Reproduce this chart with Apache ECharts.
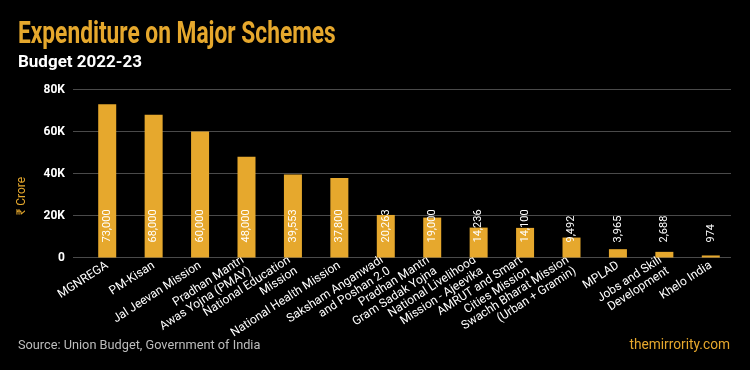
<!DOCTYPE html>
<html>
<head>
<meta charset="utf-8">
<script src="https://cdn.jsdelivr.net/npm/echarts@6/dist/echarts.min.js"></script>
<style>html,body{margin:0;padding:0;background:#000;}#c{width:750px;height:370px;}</style>
</head>
<body>
<div id="c"></div>
<script>
const categories = [
  'MGNREGA', 'PM-Kisan', 'Jal Jeevan Mission', 'Pradhan Mantri\nAwas Yojna (PMAY)',
  'National Education\nMission', 'National Health Mission', 'Saksham Anganwadi\nand Poshan 2.0',
  'Pradhan Mantri\nGram Sadak Yojna', 'National Livelihood\nMission - Ajeevika',
  'AMRUT and Smart\nCities Mission', 'Swachh Bharat Mission\n(Urban + Gramin)', 'MPLAD',
  'Jobs and Skill\nDevelopment', 'Khelo India'
];
const expenditure = [73000, 68000, 60000, 48000, 39553, 37800, 20263, 19000, 14236, 14100, 9492, 3965, 2688, 974];
const yMin = 0, yMax = 80000, yStep = 20000;
const titleText = 'Expenditure on Major Schemes';
const subtitleText = 'Budget 2022-23';
const axisName = '₹ Crore';
const sourceText = 'Source: Union Budget, Government of India';
const brandText = 'themirrority.com';

const ORANGE = '#E6A82D';
const chart = echarts.init(document.getElementById('c'));
chart.setOption({
  backgroundColor: '#000',
  animation: false,
  grid: [
    { left: 73, right: 19, top: 89.5, bottom: 112.5 },
    { left: 84, right: 16, top: 89.5, bottom: 112.5 }
  ],
  xAxis: [
    { gridIndex: 0, type: 'value', min: 0, max: 1, show: false },
    {
      gridIndex: 1, type: 'category', data: categories,
      axisLine: { show: false }, axisTick: { show: false },
      axisLabel: { interval: 0, rotate: 33, color: '#fff', fontSize: 12, fontFamily: 'Roboto', margin: 7, lineHeight: 13 }
    }
  ],
  yAxis: [
    {
      gridIndex: 0, type: 'value', min: yMin, max: yMax, interval: yStep,
      axisLine: { show: false }, axisTick: { show: false },
      splitLine: { lineStyle: { color: '#4a4a4a', width: 1 } },
      axisLabel: { color: '#fff', fontSize: 12, fontWeight: 'bold', fontFamily: 'Roboto', margin: 8,
        formatter: v => v === 0 ? '0' : (v / 1000) + 'K' }
    },
    { gridIndex: 1, type: 'value', min: yMin, max: yMax, interval: yStep, show: false }
  ],
  series: [{
    type: 'bar', xAxisIndex: 1, yAxisIndex: 1, data: expenditure, barWidth: 18,
    itemStyle: { color: ORANGE },
    label: {
      show: true, position: 'insideBottom', rotate: 90, align: 'left', verticalAlign: 'middle',
      distance: 15, color: '#fff', fontSize: 11, fontFamily: 'Roboto',
      formatter: p => p.value.toLocaleString('en-US')
    }
  }],
  graphic: [
    { type: 'text', x: 18, y: 19, scaleX: 0.71, style: { text: titleText, fill: ORANGE, font: 'bold 32px Roboto', verticalAlign: 'top' } },
    { type: 'text', x: 18, y: 54, style: { text: subtitleText, fill: '#fff', font: 'bold 17px Roboto', verticalAlign: 'top' } },
    { type: 'text', x: 22, y: 196, rotation: Math.PI / 2, style: { text: axisName, fill: ORANGE, font: '12px Roboto', align: 'center', verticalAlign: 'middle' } },
    { type: 'text', x: 18, y: 339, scaleX: 0.98, style: { text: sourceText, fill: '#bdbdbd', font: '13px Roboto', verticalAlign: 'top' } },
    { type: 'text', x: 730, y: 338, scaleX: 0.98, style: { text: brandText, fill: ORANGE, font: '14px Roboto', align: 'right', verticalAlign: 'top' } }
  ]
});
</script>
</body>
</html>
